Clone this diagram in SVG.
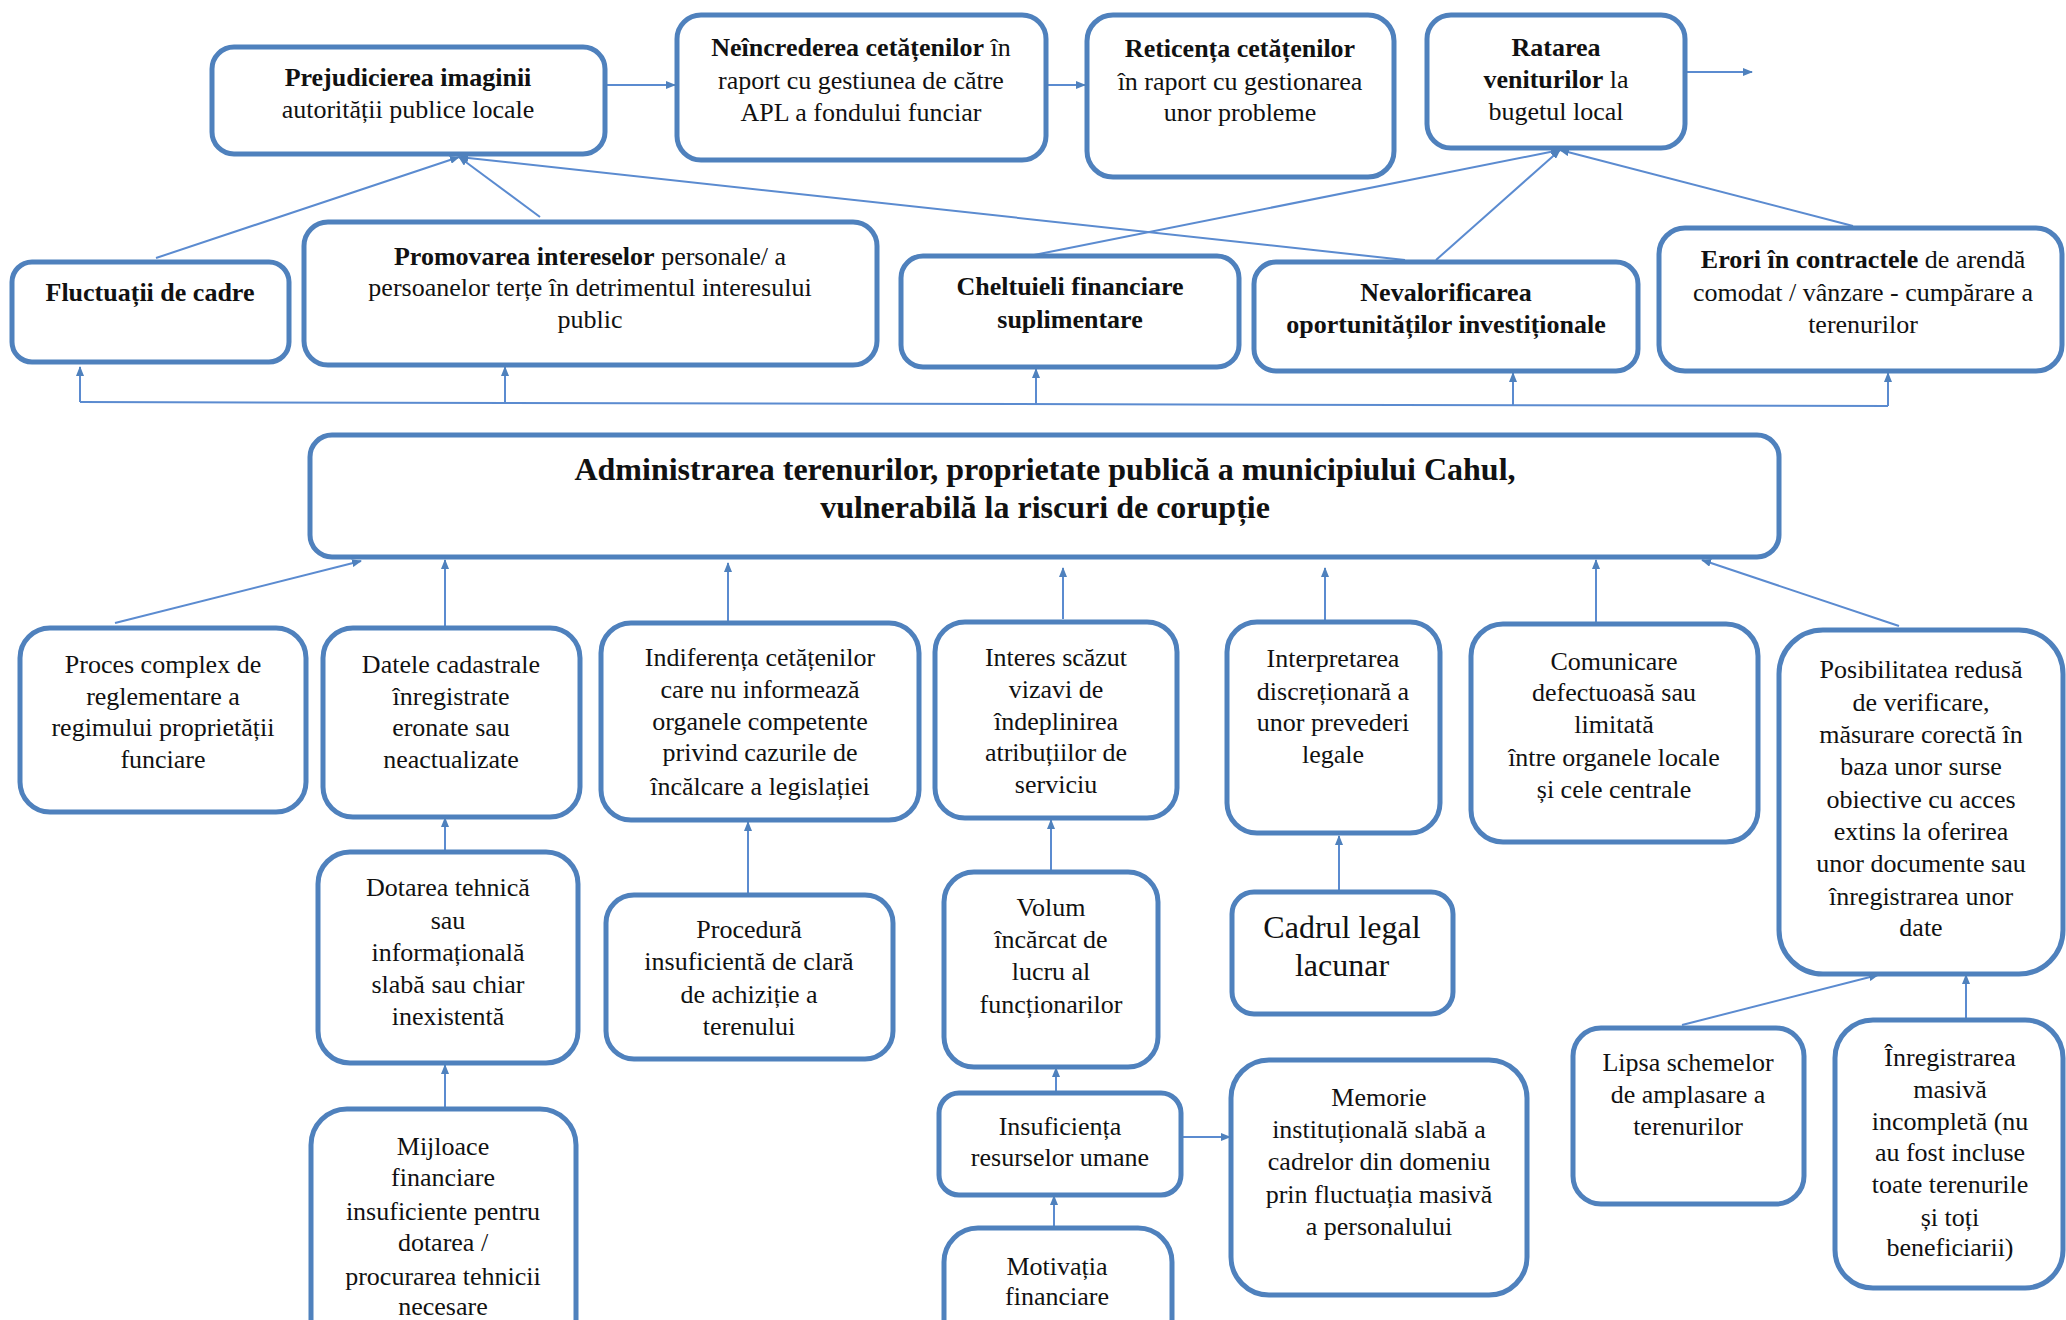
<svg xmlns="http://www.w3.org/2000/svg" width="2066" height="1320" viewBox="0 0 2066 1320">
<style>
.box{fill:#ffffff;stroke:#4f81bd;stroke-width:5}
.t{font-family:"Liberation Serif","Times New Roman",serif;font-size:26px;fill:#111;text-anchor:middle}
.b{font-weight:bold}
.big{font-size:32px}
.c{fill:none;stroke:#5b8bd0;stroke-width:2}
</style>
<defs>
<marker id="ah" markerWidth="10" markerHeight="8" refX="9" refY="4" orient="auto" markerUnits="userSpaceOnUse">
<path d="M0,0 L10,4 L0,8 z" fill="#4f81bd"/>
</marker>
</defs>
<rect width="2066" height="1320" fill="#ffffff"/>

<g id="connectors">
<line class="c" x1="606" y1="85" x2="675" y2="85" marker-end="url(#ah)"/>
<line class="c" x1="1047" y1="85" x2="1085" y2="85" marker-end="url(#ah)"/>
<line class="c" x1="1686" y1="72" x2="1752" y2="72" marker-end="url(#ah)"/>
<line class="c" x1="156" y1="258" x2="459" y2="157" marker-end="url(#ah)"/>
<line class="c" x1="540" y1="217" x2="459" y2="157" marker-end="url(#ah)"/>
<line class="c" x1="1405" y1="260" x2="459" y2="157" marker-end="url(#ah)"/>
<line class="c" x1="1034" y1="255" x2="1560" y2="150" marker-end="url(#ah)"/>
<line class="c" x1="1436" y1="260" x2="1560" y2="150" marker-end="url(#ah)"/>
<line class="c" x1="1853" y1="226" x2="1560" y2="150" marker-end="url(#ah)"/>
<line class="c" x1="80" y1="402" x2="1888" y2="406" stroke-width="3"/>
<line class="c" x1="80" y1="402" x2="80" y2="367" marker-end="url(#ah)"/>
<line class="c" x1="505" y1="403" x2="505" y2="367" marker-end="url(#ah)"/>
<line class="c" x1="1036" y1="404" x2="1036" y2="369" marker-end="url(#ah)"/>
<line class="c" x1="1513" y1="405" x2="1513" y2="373" marker-end="url(#ah)"/>
<line class="c" x1="1888" y1="406" x2="1888" y2="373" marker-end="url(#ah)"/>
<line class="c" x1="115" y1="623" x2="361" y2="561" marker-end="url(#ah)"/>
<line class="c" x1="445" y1="627" x2="445" y2="560" marker-end="url(#ah)"/>
<line class="c" x1="728" y1="621" x2="728" y2="563" marker-end="url(#ah)"/>
<line class="c" x1="1063" y1="619" x2="1063" y2="568" marker-end="url(#ah)"/>
<line class="c" x1="1325" y1="620" x2="1325" y2="568" marker-end="url(#ah)"/>
<line class="c" x1="1596" y1="623" x2="1596" y2="560" marker-end="url(#ah)"/>
<line class="c" x1="1899" y1="626" x2="1702" y2="560" marker-end="url(#ah)"/>
<line class="c" x1="445" y1="852" x2="445" y2="818" marker-end="url(#ah)"/>
<line class="c" x1="748" y1="895" x2="748" y2="822" marker-end="url(#ah)"/>
<line class="c" x1="1051" y1="872" x2="1051" y2="820" marker-end="url(#ah)"/>
<line class="c" x1="1339" y1="892" x2="1339" y2="836" marker-end="url(#ah)"/>
<line class="c" x1="445" y1="1109" x2="445" y2="1065" marker-end="url(#ah)"/>
<line class="c" x1="1056" y1="1093" x2="1056" y2="1068" marker-end="url(#ah)"/>
<line class="c" x1="1182" y1="1137" x2="1230" y2="1137" marker-end="url(#ah)"/>
<line class="c" x1="1054" y1="1228" x2="1054" y2="1196" marker-end="url(#ah)"/>
<line class="c" x1="1682" y1="1025" x2="1878" y2="975" marker-end="url(#ah)"/>
<line class="c" x1="1966" y1="1020" x2="1966" y2="975" marker-end="url(#ah)"/>
</g>

<g id="prej"><rect class="box" x="212" y="47" width="393" height="107" rx="22"/>
<text class="t" x="408" y="86"><tspan class="b">Prejudicierea imaginii</tspan></text>
<text class="t" x="408" y="118">autorității publice locale</text></g>

<g id="nein"><rect class="box" x="677" y="15" width="369" height="145" rx="24"/>
<text class="t" x="861" y="56"><tspan class="b">Neîncrederea cetățenilor</tspan> în</text>
<text class="t" x="861" y="89">raport cu gestiunea de către</text>
<text class="t" x="861" y="121">APL a fondului funciar</text></g>

<g id="ret"><rect class="box" x="1087" y="15" width="307" height="162" rx="26"/>
<text class="t" x="1240" y="57"><tspan class="b">Reticența cetățenilor</tspan></text>
<text class="t" x="1240" y="90">în raport cu gestionarea</text>
<text class="t" x="1240" y="121">unor probleme</text></g>

<g id="rat"><rect class="box" x="1427" y="15" width="258" height="133" rx="24"/>
<text class="t" x="1556" y="56"><tspan class="b">Ratarea</tspan></text>
<text class="t" x="1556" y="88"><tspan class="b">veniturilor</tspan> la</text>
<text class="t" x="1556" y="120">bugetul local</text></g>

<g id="fluct"><rect class="box" x="12" y="262" width="277" height="100" rx="20"/>
<text class="t b" x="150" y="301">Fluctuații de cadre</text></g>

<g id="prom"><rect class="box" x="304" y="222" width="573" height="143" rx="24"/>
<text class="t" x="590" y="265"><tspan class="b">Promovarea intereselor</tspan> personale/ a</text>
<text class="t" x="590" y="296">persoanelor terțe în detrimentul interesului</text>
<text class="t" x="590" y="328">public</text></g>

<g id="chelt"><rect class="box" x="901" y="256" width="338" height="111" rx="22"/>
<text class="t b" x="1070" y="295">Cheltuieli financiare</text>
<text class="t b" x="1070" y="328">suplimentare</text></g>

<g id="neval"><rect class="box" x="1254" y="262" width="384" height="109" rx="22"/>
<text class="t b" x="1446" y="301">Nevalorificarea</text>
<text class="t b" x="1446" y="333">oportunităților investiționale</text></g>

<g id="erori"><rect class="box" x="1659" y="228" width="403" height="143" rx="26"/>
<text class="t" x="1863" y="268"><tspan class="b">Erori în contractele</tspan> de arendă</text>
<text class="t" x="1863" y="301">comodat / vânzare - cumpărare a</text>
<text class="t" x="1863" y="333">terenurilor</text></g>

<g id="main"><rect class="box" x="310" y="435" width="1469" height="122" rx="22"/>
<text class="t b big" x="1045" y="480">Administrarea terenurilor, proprietate publică a municipiului Cahul,</text>
<text class="t b big" x="1045" y="518">vulnerabilă la riscuri de corupție</text></g>

<g id="proces"><rect class="box" x="20" y="628" width="286" height="184" rx="30"/>
<text class="t" x="163" y="673">Proces complex de</text>
<text class="t" x="163" y="705">reglementare a</text>
<text class="t" x="163" y="736">regimului proprietății</text>
<text class="t" x="163" y="768">funciare</text></g>

<g id="datele"><rect class="box" x="323" y="628" width="257" height="189" rx="30"/>
<text class="t" x="451" y="673">Datele cadastrale</text>
<text class="t" x="451" y="705">înregistrate</text>
<text class="t" x="451" y="736">eronate sau</text>
<text class="t" x="451" y="768">neactualizate</text></g>

<g id="indif"><rect class="box" x="601" y="623" width="318" height="197" rx="30"/>
<text class="t" x="760" y="666">Indiferența cetățenilor</text>
<text class="t" x="760" y="698">care nu informează</text>
<text class="t" x="760" y="730">organele competente</text>
<text class="t" x="760" y="761">privind cazurile de</text>
<text class="t" x="760" y="795">încălcare a legislației</text></g>

<g id="interes"><rect class="box" x="935" y="622" width="242" height="196" rx="30"/>
<text class="t" x="1056" y="666">Interes scăzut</text>
<text class="t" x="1056" y="698">vizavi de</text>
<text class="t" x="1056" y="730">îndeplinirea</text>
<text class="t" x="1056" y="761">atribuțiilor de</text>
<text class="t" x="1056" y="793">serviciu</text></g>

<g id="interpr"><rect class="box" x="1227" y="622" width="213" height="211" rx="30"/>
<text class="t" x="1333" y="667">Interpretarea</text>
<text class="t" x="1333" y="700">discreționară a</text>
<text class="t" x="1333" y="731">unor prevederi</text>
<text class="t" x="1333" y="763">legale</text></g>

<g id="comun"><rect class="box" x="1471" y="624" width="287" height="218" rx="32"/>
<text class="t" x="1614" y="670">Comunicare</text>
<text class="t" x="1614" y="701">defectuoasă sau</text>
<text class="t" x="1614" y="733">limitată</text>
<text class="t" x="1614" y="766">între organele locale</text>
<text class="t" x="1614" y="798">și cele centrale</text></g>

<g id="posib"><rect class="box" x="1779" y="630" width="284" height="344" rx="44"/>
<text class="t" x="1921" y="678">Posibilitatea redusă</text>
<text class="t" x="1921" y="711">de verificare,</text>
<text class="t" x="1921" y="743">măsurare corectă în</text>
<text class="t" x="1921" y="775">baza unor surse</text>
<text class="t" x="1921" y="808">obiective cu acces</text>
<text class="t" x="1921" y="840">extins la oferirea</text>
<text class="t" x="1921" y="872">unor documente sau</text>
<text class="t" x="1921" y="905">înregistrarea unor</text>
<text class="t" x="1921" y="936">date</text></g>

<g id="dotarea"><rect class="box" x="318" y="852" width="260" height="211" rx="32"/>
<text class="t" x="448" y="896">Dotarea tehnică</text>
<text class="t" x="448" y="929">sau</text>
<text class="t" x="448" y="961">informațională</text>
<text class="t" x="448" y="993">slabă sau chiar</text>
<text class="t" x="448" y="1025">inexistentă</text></g>

<g id="proced"><rect class="box" x="606" y="895" width="287" height="164" rx="28"/>
<text class="t" x="749" y="938">Procedură</text>
<text class="t" x="749" y="970">insuficientă de clară</text>
<text class="t" x="749" y="1003">de achiziție a</text>
<text class="t" x="749" y="1035">terenului</text></g>

<g id="volum"><rect class="box" x="944" y="872" width="214" height="195" rx="30"/>
<text class="t" x="1051" y="916">Volum</text>
<text class="t" x="1051" y="948">încărcat de</text>
<text class="t" x="1051" y="980">lucru al</text>
<text class="t" x="1051" y="1013">funcționarilor</text></g>

<g id="cadrul"><rect class="box" x="1232" y="892" width="221" height="122" rx="22"/>
<text class="t big" x="1342" y="938">Cadrul legal</text>
<text class="t big" x="1342" y="976">lacunar</text></g>

<g id="lipsa"><rect class="box" x="1573" y="1028" width="231" height="176" rx="28"/>
<text class="t" x="1688" y="1071">Lipsa schemelor</text>
<text class="t" x="1688" y="1103">de amplasare a</text>
<text class="t" x="1688" y="1135">terenurilor</text></g>

<g id="inreg"><rect class="box" x="1835" y="1020" width="228" height="268" rx="38"/>
<text class="t" x="1950" y="1066">Înregistrarea</text>
<text class="t" x="1950" y="1098">masivă</text>
<text class="t" x="1950" y="1130">incompletă (nu</text>
<text class="t" x="1950" y="1161">au fost incluse</text>
<text class="t" x="1950" y="1193">toate terenurile</text>
<text class="t" x="1950" y="1226">și toți</text>
<text class="t" x="1950" y="1256">beneficiarii)</text></g>

<g id="mijloace"><rect class="box" x="311" y="1109" width="265" height="260" rx="36"/>
<text class="t" x="443" y="1155">Mijloace</text>
<text class="t" x="443" y="1186">financiare</text>
<text class="t" x="443" y="1220">insuficiente pentru</text>
<text class="t" x="443" y="1251">dotarea /</text>
<text class="t" x="443" y="1285">procurarea tehnicii</text>
<text class="t" x="443" y="1315">necesare</text></g>

<g id="insuf"><rect class="box" x="939" y="1093" width="242" height="102" rx="20"/>
<text class="t" x="1060" y="1135">Insuficiența</text>
<text class="t" x="1060" y="1166">resurselor umane</text></g>

<g id="memorie"><rect class="box" x="1231" y="1060" width="296" height="235" rx="38"/>
<text class="t" x="1379" y="1106">Memorie</text>
<text class="t" x="1379" y="1138">instituțională slabă a</text>
<text class="t" x="1379" y="1170">cadrelor din domeniu</text>
<text class="t" x="1379" y="1203">prin fluctuația masivă</text>
<text class="t" x="1379" y="1235">a personalului</text></g>

<g id="motiv"><rect class="box" x="944" y="1228" width="228" height="140" rx="34"/>
<text class="t" x="1057" y="1275">Motivația</text>
<text class="t" x="1057" y="1305">financiare</text></g>
</svg>
